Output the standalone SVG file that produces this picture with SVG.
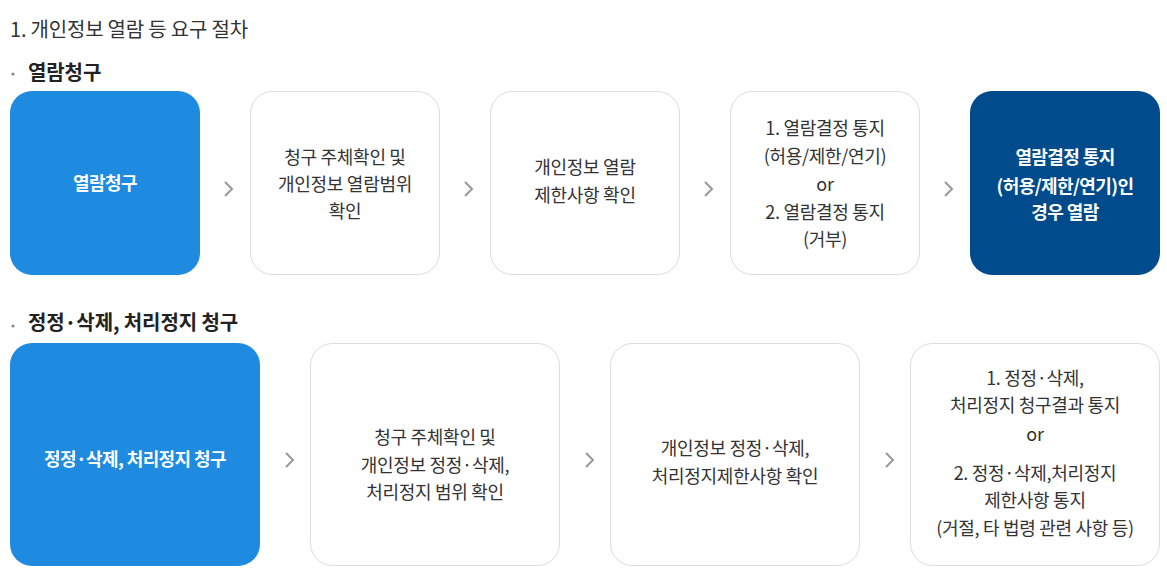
<svg xmlns="http://www.w3.org/2000/svg" width="1167" height="576" viewBox="0 0 1167 576">
<style>
text{font-family:"Noto Sans CJK KR","Noto Sans",sans-serif;}
.title{font-size:20px;fill:#333;letter-spacing:-0.2px;}
.head{font-size:20px;font-weight:bold;fill:#222;letter-spacing:-0.1px;}
.box{fill:#fff;stroke:#dcdcdc;stroke-width:1;}
.blue{fill:#1e8ae0;}
.navy{fill:#004b8c;}
.t{font-size:18px;fill:#333;text-anchor:middle;letter-spacing:-0.3px;}
.w{font-size:18px;fill:#fff;text-anchor:middle;font-weight:bold;letter-spacing:-0.6px;}
.chev{fill:none;stroke:#999;stroke-width:2;}
.dot{fill:#888;}
</style>
<rect width="1167" height="576" fill="#fff"/>
<text class="title" x="10" y="37">1. 개인정보 열람 등 요구 절차</text>
<circle class="dot" cx="13" cy="74" r="1.6"/>
<text class="head" x="28" y="80">열람청구</text>
<circle class="dot" cx="13" cy="326" r="1.6"/>
<text class="head" x="28" y="330">정정·삭제, 처리정지 청구</text>

<g id="r1n1"><rect class="blue" x="10" y="91" width="190" height="184" rx="22"/>
<text class="w" x="105" y="190">열람청구</text></g>
<g id="r1n2"><rect class="box" x="250.5" y="91.5" width="189" height="183" rx="22"/>
<text class="t" x="345" y="164">청구 주체확인 및</text>
<text class="t" x="345" y="191">개인정보 열람범위</text>
<text class="t" x="345" y="218">확인</text></g>
<g id="r1n3"><rect class="box" x="490.5" y="91.5" width="189" height="183" rx="22"/>
<text class="t" x="585" y="174">개인정보 열람</text>
<text class="t" x="585" y="202">제한사항 확인</text></g>
<g id="r1n4"><rect class="box" x="730.5" y="91.5" width="189" height="183" rx="22"/>
<text class="t" x="825" y="135">1. 열람결정 통지</text>
<text class="t" x="825" y="163">(허용/제한/연기)</text>
<text class="t" x="825" y="191">or</text>
<text class="t" x="825" y="219">2. 열람결정 통지</text>
<text class="t" x="825" y="246">(거부)</text></g>
<g id="r1n5"><rect class="navy" x="970" y="91" width="190" height="184" rx="22"/>
<text class="w" x="1065" y="164">열람결정 통지</text>
<text class="w" x="1065" y="193">(허용/제한/연기)인</text>
<text class="w" x="1065" y="219">경우 열람</text></g>

<g id="r2n1"><rect class="blue" x="10" y="343" width="250" height="223" rx="22"/>
<text class="w" x="135" y="466">정정·삭제, 처리정지 청구</text></g>
<g id="r2n2"><rect class="box" x="310.5" y="343.5" width="249" height="222" rx="22"/>
<text class="t" x="435" y="444">청구 주체확인 및</text>
<text class="t" x="435" y="472">개인정보 정정·삭제,</text>
<text class="t" x="435" y="499">처리정지 범위 확인</text></g>
<g id="r2n3"><rect class="box" x="610.5" y="343.5" width="249" height="222" rx="22"/>
<text class="t" x="735" y="455">개인정보 정정·삭제,</text>
<text class="t" x="735" y="483">처리정지제한사항 확인</text></g>
<g id="r2n4"><rect class="box" x="910.5" y="343.5" width="249" height="222" rx="22"/>
<text class="t" x="1035" y="385">1. 정정·삭제,</text>
<text class="t" x="1035" y="412">처리정지 청구결과 통지</text>
<text class="t" x="1035" y="441">or</text>
<text class="t" x="1035" y="480">2. 정정·삭제,처리정지</text>
<text class="t" x="1035" y="507">제한사항 통지</text>
<text class="t" x="1035" y="535">(거절, 타 법령 관련 사항 등)</text></g>

<g id="connectors">
<path class="chev" d="M225,182 L232,189 L225,196"/>
<path class="chev" d="M465,182 L472,189 L465,196"/>
<path class="chev" d="M705,182 L712,189 L705,196"/>
<path class="chev" d="M945,182 L952,189 L945,196"/>
<path class="chev" d="M286,453 L293,460 L286,467"/>
<path class="chev" d="M586,453 L593,460 L586,467"/>
<path class="chev" d="M886,453 L893,460 L886,467"/>
</g>
</svg>
